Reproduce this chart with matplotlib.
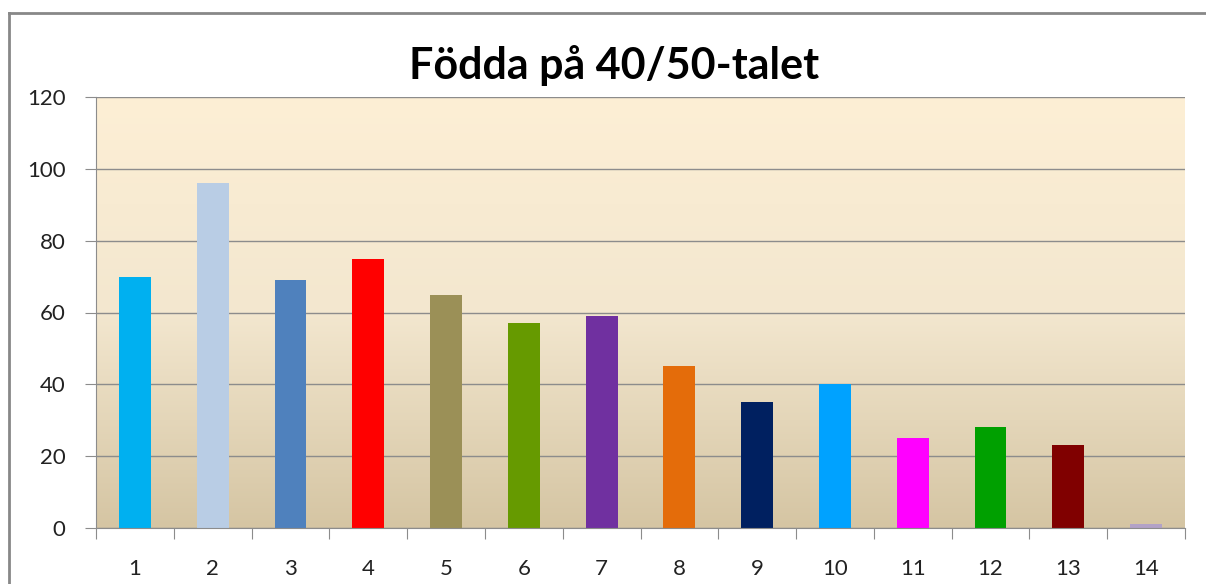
import matplotlib
matplotlib.use("Agg")
import matplotlib.pyplot as plt
from matplotlib.lines import Line2D
from matplotlib.colors import LinearSegmentedColormap
import numpy as np

# data
categories = [str(i) for i in range(1, 15)]
values = [70, 96, 69, 75, 65, 57, 59, 45, 35, 40, 25, 28, 23, 1]
bar_colors = ["#00B0F0", "#B9CDE5", "#4F81BD", "#FF0000", "#9B9057", "#669A00",
              "#7030A0", "#E46C0A", "#002060", "#00A2FF", "#FF00FF", "#00A000",
              "#800000", "#B2A2C7"]
yticks = [0, 20, 40, 60, 80, 100, 120]
title = "Födda på 40/50-talet"

plt.rcParams['font.family'] = ['Lato', 'DejaVu Sans']

fig = plt.figure(figsize=(12.06, 5.84), dpi=100)
ax = fig.add_axes([96 / 1206, 56 / 584, (1185 - 96) / 1206, (528 - 97) / 584])

x = np.arange(1, len(values) + 1)

# gradient background
grad = LinearSegmentedColormap.from_list("bg", ["#D5C5A3", "#F3E7CF", "#FDEFD5"])
g = np.linspace(0, 1, 256).reshape(-1, 1)
ax.imshow(g, cmap=grad, aspect="auto", origin="lower",
          extent=[0.5, 14.5, 0, 120], zorder=0)

ax.bar(x, values, width=0.41, color=bar_colors, zorder=3)

ax.set_xlim(0.5, 14.5)
ax.set_ylim(0, 120)
ax.set_yticks(yticks)
ax.yaxis.grid(True, color="#8C8C8C", linewidth=1, zorder=1)
ax.set_axisbelow(False)
for gl in ax.get_ygridlines():
    gl.set_zorder(1)

ax.set_xticks(np.arange(0.5, 15, 1))
ax.set_xticklabels([])
ax.set_xticks(x, minor=True)
ax.set_xticklabels(categories, minor=True)
ax.tick_params(axis="x", which="major", length=8, color="#8C8C8C", direction="out")
ax.tick_params(axis="x", which="minor", length=0, pad=22, labelsize=16, labelcolor="#222222")
ax.tick_params(axis="y", length=8, color="#8C8C8C", pad=14, labelsize=16, labelcolor="#222222")

for s in ["top", "right"]:
    ax.spines[s].set_visible(False)
for s in ["left", "bottom"]:
    ax.spines[s].set_color("#8C8C8C")
    ax.spines[s].set_zorder(4)

fig.text(614 / 1206, 1 - 66 / 584, title, ha="center", va="center",
         fontsize=31, fontweight="bold", color="black")

# chart frame
fig.add_artist(Line2D([9 / 1206, 9 / 1206], [0, 1 - 13 / 584], color="#888888", lw=2))
fig.add_artist(Line2D([9 / 1206, 1], [1 - 13 / 584, 1 - 13 / 584], color="#888888", lw=2))

fig.savefig("out.png", dpi=100)
